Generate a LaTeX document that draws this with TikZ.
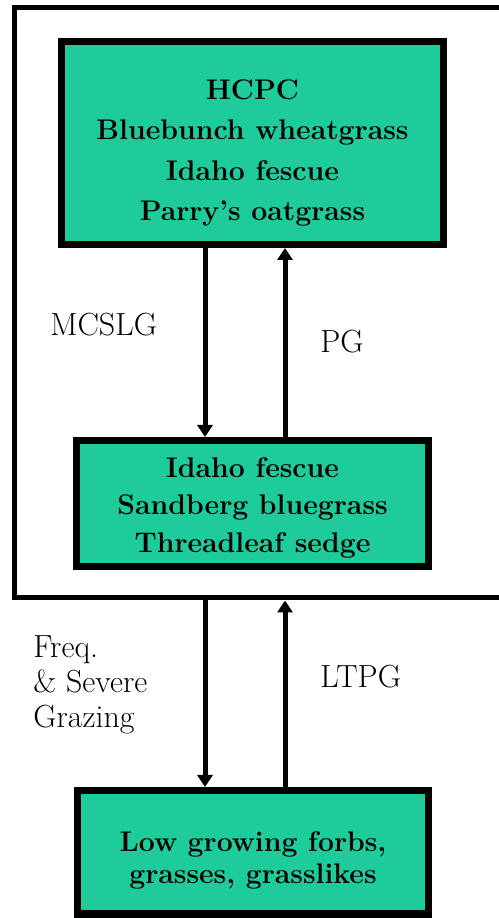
\documentclass[tikz,border=0pt]{standalone}
\usetikzlibrary{arrows.meta,positioning}
\definecolor{grassgreen}{HTML}{1DCC9A}

\begin{document}
\begin{tikzpicture}[x=0.5pt, y=0.5pt,
    statebox/.style={draw=black, fill=grassgreen, line width=3.5pt, inner sep=0pt},
    boxtext/.style={align=center, inner sep=0pt, font=\fontsize{14.2}{#1}\selectfont\bfseries},
    flow/.style={line width=2.5pt, -{Triangle[length=6pt, width=7.5pt]}},
    lbl/.style={font=\fontsize{16}{17.5}\selectfont, align=left, anchor=west, inner sep=0pt}]
  \useasboundingbox (0,0) rectangle (499,918);
  \clip (0,0) rectangle (499,918);
  \fill[white] (0,0) rectangle (499,918);

  % outer frame, right side runs off the page
  \node[draw=black, line width=2.5pt, minimum width=247.75pt, minimum height=295.25pt,
    inner sep=0pt] (frame) at (262.25,615.25) {};

  \node[statebox, minimum width=191pt, minimum height=101.5pt] (hcpc) at (252.5,775) {};
  \node[boxtext=20.3pt] (hcpctxt) at ([yshift=-5pt]hcpc.center)
    {HCPC\\Bluebunch wheatgrass\\Idaho fescue\\Parry's oatgrass};
  \node[statebox, minimum width=176pt, minimum height=63pt] (mid) at (252.5,414.5) {};
  \node[boxtext=18.75pt] (midtxt) at ([yshift=-2pt]mid.center)
    {Idaho fescue\\Sandberg bluegrass\\Threadleaf sedge};
  \node[statebox, minimum width=175.5pt, minimum height=61.75pt] (low) at (253,65.75) {};
  \node[boxtext=16pt] (lowtxt) at ([yshift=-4pt]low.center)
    {Low growing forbs,\\grasses, grasslikes};

  \coordinate (dn) at (205,0);
  \coordinate (up) at (285,0);

  \draw[flow] (hcpc.south -| dn) -- (mid.north -| dn);
  \draw[flow] (mid.north -| up) -- (hcpc.south -| up);
  \draw[flow] (frame.south -| dn) -- (low.north -| dn);
  \draw[flow] (low.north -| up) -- (frame.south -| up);

  \node[lbl] (mcslg) at (50,593) {MCSLG};
  \node[lbl] (pg) at (320,576) {PG};
  \node[lbl] (fsg) at (33,233) {Freq.\\\& Severe\\Grazing};
  \node[lbl] (ltpg) at (320,241) {LTPG};
\end{tikzpicture}
\end{document}
